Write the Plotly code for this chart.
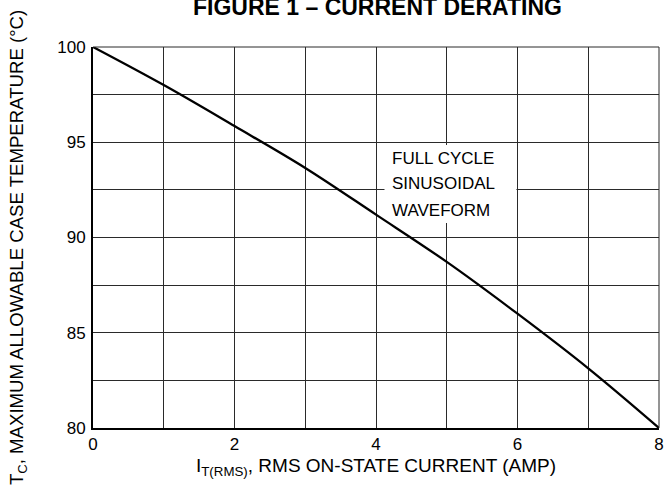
import plotly.graph_objects as go

current_amp = [0, 1, 2, 3, 4, 5, 6, 7, 8]
case_temp_c = [100, 98.0, 95.85, 93.65, 91.2, 88.72, 86.0, 83.13, 80.0]
x_ticks = [0, 2, 4, 6, 8]
y_ticks = [80, 85, 90, 95, 100]
note_lines = ["FULL CYCLE", "SINUSOIDAL", "WAVEFORM"]
note_y = [94.17, 92.86, 91.44]

FONT = "Liberation Sans, Arial, sans-serif"
GRID = "#2a2a2a"

fig = go.Figure()
fig.add_trace(go.Scatter(
    x=current_amp, y=case_temp_c, mode="lines",
    line=dict(color="black", width=2.3, shape="spline", smoothing=1.0),
    showlegend=False, hoverinfo="skip"))

fig.update_layout(
    width=667, height=495,
    margin=dict(l=93, r=8, t=47, b=67),
    paper_bgcolor="white", plot_bgcolor="white",
    font=dict(family=FONT, size=17, color="black"),
    xaxis=dict(range=[0, 8], tickvals=x_ticks, showgrid=True, gridcolor=GRID, gridwidth=1,
               minor=dict(dtick=1, showgrid=True, gridcolor=GRID, gridwidth=1),
               showline=True, linecolor="black", linewidth=2, mirror=False,
               ticks="", zeroline=False, tickfont=dict(size=17), ticklabelstandoff=0,
               automargin=False,
               title=dict(text="I<sub>T(RMS)</sub>, RMS ON-STATE CURRENT (AMP)", font=dict(size=19), standoff=5)),
    yaxis=dict(range=[80, 100], tickvals=y_ticks, showgrid=True, gridcolor=GRID, gridwidth=1,
               minor=dict(dtick=2.5, showgrid=True, gridcolor=GRID, gridwidth=1),
               showline=True, linecolor="black", linewidth=2, mirror=False,
               ticks="", zeroline=False, tickfont=dict(size=17), ticklabelstandoff=2,
               automargin=False),
)

# y-axis title (placed slightly below axis centre, as in the reference)
fig.add_annotation(
    x=(18 - 93) / 566, y=1 - (248 - 47) / 381, xref="paper", yref="paper",
    xanchor="center", yanchor="middle", textangle=-90, showarrow=False,
    text="T<sub>C</sub>, MAXIMUM ALLOWABLE CASE TEMPERATURE (°C)",
    font=dict(family=FONT, size=18.6, color="black"))

# thin top/right frame
fig.add_shape(type="line", xref="paper", yref="paper", x0=0, x1=1, y0=1, y1=1,
              line=dict(color=GRID, width=1))
fig.add_shape(type="line", xref="paper", yref="paper", x0=1, x1=1, y0=0, y1=1,
              line=dict(color=GRID, width=1))

# white box behind note (between grid and trace)
fig.add_shape(type="rect", xref="x", yref="y", x0=4.12, x1=5.985, y0=90.76, y1=94.86,
              fillcolor="white", line=dict(width=0), layer="between")

for txt, yy in zip(note_lines, note_y):
    fig.add_annotation(x=4.2, y=yy, xref="x", yref="y", xanchor="left", yanchor="middle",
                       text=txt, showarrow=False, font=dict(family=FONT, size=17, color="black"))

fig.add_annotation(
    x=0.503, y=1 + 40/381, xref="paper", yref="paper", xanchor="center", yanchor="middle",
    text="<b>FIGURE 1 – CURRENT DERATING</b>", showarrow=False,
    font=dict(family=FONT, size=23, color="black"))

fig.write_html("out.html", config={"displayModeBar": False},
               post_script="document.body.style.margin='0';document.body.style.overflow='hidden';")
